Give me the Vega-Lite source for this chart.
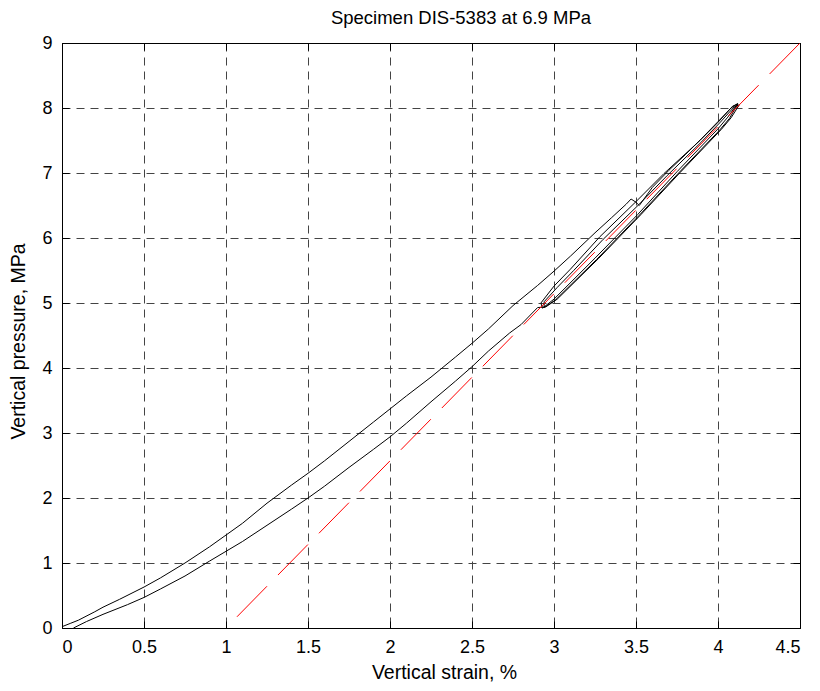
{
  "$schema": "https://vega.github.io/schema/vega-lite/v6.json",
  "autosize": "none",
  "width": 738,
  "height": 585,
  "padding": {"left": 62, "top": 43, "right": 20, "bottom": 63},
  "background": "white",
  "title": {"text": "Specimen DIS-5383 at 6.9 MPa", "fontSize": 18.5, "font": "Liberation Sans", "fontWeight": "normal", "color": "black", "offset": 7, "anchor": "middle", "dx": 30},
  "config": {
    "view": {"stroke": "black", "strokeWidth": 1},
    "axis": {
      "labelFont": "Liberation Sans", "labelFontSize": 18, "labelColor": "black",
      "titleFont": "Liberation Sans", "titleFontSize": 19.5, "titleFontWeight": "normal", "titleColor": "black",
      "domainColor": "black", "tickColor": "black", "tickSize": -7,
      "grid": true, "gridColor": "#444", "gridDash": [8, 6], "gridWidth": 1
    }
  },
  "datasets": {
    "curve": [
      {"i": 1, "strain": 0.0, "pressure": 0.02},
      {"i": 2, "strain": 0.05, "pressure": 0.07},
      {"i": 3, "strain": 0.1, "pressure": 0.12},
      {"i": 4, "strain": 0.2, "pressure": 0.25},
      {"i": 5, "strain": 0.25, "pressure": 0.32},
      {"i": 6, "strain": 0.35, "pressure": 0.44},
      {"i": 7, "strain": 0.5, "pressure": 0.63},
      {"i": 8, "strain": 0.6, "pressure": 0.77},
      {"i": 9, "strain": 0.75, "pressure": 1.0},
      {"i": 10, "strain": 0.9, "pressure": 1.25},
      {"i": 11, "strain": 1.0, "pressure": 1.43},
      {"i": 12, "strain": 1.1, "pressure": 1.61},
      {"i": 13, "strain": 1.25, "pressure": 1.92},
      {"i": 14, "strain": 1.4, "pressure": 2.2},
      {"i": 15, "strain": 1.5, "pressure": 2.38},
      {"i": 16, "strain": 1.6, "pressure": 2.57},
      {"i": 17, "strain": 1.75, "pressure": 2.87},
      {"i": 18, "strain": 1.9, "pressure": 3.17},
      {"i": 19, "strain": 2.0, "pressure": 3.37},
      {"i": 20, "strain": 2.1, "pressure": 3.57},
      {"i": 21, "strain": 2.25, "pressure": 3.86},
      {"i": 22, "strain": 2.4, "pressure": 4.17},
      {"i": 23, "strain": 2.5, "pressure": 4.38},
      {"i": 24, "strain": 2.6, "pressure": 4.6},
      {"i": 25, "strain": 2.75, "pressure": 4.96},
      {"i": 26, "strain": 2.9, "pressure": 5.27},
      {"i": 27, "strain": 3.0, "pressure": 5.49},
      {"i": 28, "strain": 3.1, "pressure": 5.72},
      {"i": 29, "strain": 3.25, "pressure": 6.08},
      {"i": 30, "strain": 3.35, "pressure": 6.31},
      {"i": 31, "strain": 3.44, "pressure": 6.52},
      {"i": 32, "strain": 3.47, "pressure": 6.6},
      {"i": 33, "strain": 3.5, "pressure": 6.55},
      {"i": 34, "strain": 3.52, "pressure": 6.5},
      {"i": 35, "strain": 3.6, "pressure": 6.78},
      {"i": 36, "strain": 3.7, "pressure": 7.04},
      {"i": 37, "strain": 3.8, "pressure": 7.28},
      {"i": 38, "strain": 3.9, "pressure": 7.53},
      {"i": 39, "strain": 4.0, "pressure": 7.79},
      {"i": 40, "strain": 4.08, "pressure": 8.0},
      {"i": 41, "strain": 4.12, "pressure": 8.07},
      {"i": 42, "strain": 4.06, "pressure": 7.86},
      {"i": 43, "strain": 4.0, "pressure": 7.68},
      {"i": 44, "strain": 3.75, "pressure": 7.02},
      {"i": 45, "strain": 3.51, "pressure": 6.36},
      {"i": 46, "strain": 3.25, "pressure": 5.69},
      {"i": 47, "strain": 3.0, "pressure": 5.06},
      {"i": 48, "strain": 2.93, "pressure": 4.92},
      {"i": 49, "strain": 2.92, "pressure": 5.0},
      {"i": 50, "strain": 3.0, "pressure": 5.26},
      {"i": 51, "strain": 3.1, "pressure": 5.52},
      {"i": 52, "strain": 3.28, "pressure": 6.02},
      {"i": 53, "strain": 3.5, "pressure": 6.56},
      {"i": 54, "strain": 3.67, "pressure": 6.99},
      {"i": 55, "strain": 3.89, "pressure": 7.5},
      {"i": 56, "strain": 4.0, "pressure": 7.78},
      {"i": 57, "strain": 4.09, "pressure": 8.03},
      {"i": 58, "strain": 4.12, "pressure": 8.06},
      {"i": 59, "strain": 4.07, "pressure": 7.84},
      {"i": 60, "strain": 4.01, "pressure": 7.66},
      {"i": 61, "strain": 3.76, "pressure": 7.0},
      {"i": 62, "strain": 3.52, "pressure": 6.35},
      {"i": 63, "strain": 3.26, "pressure": 5.67},
      {"i": 64, "strain": 3.01, "pressure": 5.05},
      {"i": 65, "strain": 2.94, "pressure": 4.93},
      {"i": 66, "strain": 2.94, "pressure": 5.02},
      {"i": 67, "strain": 3.02, "pressure": 5.24},
      {"i": 68, "strain": 3.12, "pressure": 5.5},
      {"i": 69, "strain": 3.3, "pressure": 5.98},
      {"i": 70, "strain": 3.52, "pressure": 6.52},
      {"i": 71, "strain": 3.69, "pressure": 6.96},
      {"i": 72, "strain": 3.9, "pressure": 7.48},
      {"i": 73, "strain": 4.01, "pressure": 7.77},
      {"i": 74, "strain": 4.1, "pressure": 8.02},
      {"i": 75, "strain": 4.13, "pressure": 8.05},
      {"i": 76, "strain": 4.08, "pressure": 7.85},
      {"i": 77, "strain": 4.02, "pressure": 7.67},
      {"i": 78, "strain": 3.77, "pressure": 7.01},
      {"i": 79, "strain": 3.53, "pressure": 6.36},
      {"i": 80, "strain": 3.27, "pressure": 5.68},
      {"i": 81, "strain": 3.02, "pressure": 5.06},
      {"i": 82, "strain": 2.95, "pressure": 4.94},
      {"i": 83, "strain": 2.9, "pressure": 4.93},
      {"i": 84, "strain": 2.8, "pressure": 4.67},
      {"i": 85, "strain": 2.73, "pressure": 4.54},
      {"i": 86, "strain": 2.6, "pressure": 4.26},
      {"i": 87, "strain": 2.5, "pressure": 4.02},
      {"i": 88, "strain": 2.4, "pressure": 3.8},
      {"i": 89, "strain": 2.25, "pressure": 3.48},
      {"i": 90, "strain": 2.1, "pressure": 3.15},
      {"i": 91, "strain": 2.0, "pressure": 2.94},
      {"i": 92, "strain": 1.9, "pressure": 2.75},
      {"i": 93, "strain": 1.75, "pressure": 2.47},
      {"i": 94, "strain": 1.6, "pressure": 2.18},
      {"i": 95, "strain": 1.5, "pressure": 2.0},
      {"i": 96, "strain": 1.4, "pressure": 1.83},
      {"i": 97, "strain": 1.25, "pressure": 1.58},
      {"i": 98, "strain": 1.1, "pressure": 1.33},
      {"i": 99, "strain": 1.0, "pressure": 1.18},
      {"i": 100, "strain": 0.9, "pressure": 1.03},
      {"i": 101, "strain": 0.75, "pressure": 0.8},
      {"i": 102, "strain": 0.6, "pressure": 0.6},
      {"i": 103, "strain": 0.5, "pressure": 0.47},
      {"i": 104, "strain": 0.4, "pressure": 0.36},
      {"i": 105, "strain": 0.25, "pressure": 0.21},
      {"i": 106, "strain": 0.15, "pressure": 0.1},
      {"i": 107, "strain": 0.07, "pressure": 0.0}
    ],
    "fit": [
      {"strain": 1.0, "pressure": 0.0},
      {"strain": 4.5, "pressure": 9.0}
    ]
  },
  "layer": [
    {
      "data": {"name": "curve"},
      "mark": {"type": "line", "color": "black", "strokeWidth": 1, "clip": true},
      "encoding": {
        "x": {"field": "strain", "type": "quantitative", "scale": {"domain": [0, 4.5], "nice": false}, "axis": {"values": [0, 0.5, 1, 1.5, 2, 2.5, 3, 3.5, 4, 4.5], "title": "Vertical strain, %", "labelPadding": 17, "titlePadding": 7, "titleX": 382, "format": "~g"}},
        "y": {"field": "pressure", "type": "quantitative", "scale": {"domain": [0, 9], "nice": false}, "axis": {"values": [0, 1, 2, 3, 4, 5, 6, 7, 8, 9], "title": "Vertical pressure, MPa", "labelPadding": 17, "titlePadding": 13, "titleY": 298}},
        "order": {"field": "i", "type": "quantitative"}
      }
    },
    {
      "data": {"name": "fit"},
      "mark": {"type": "line", "color": "red", "strokeWidth": 1, "strokeDash": [42.8, 15.7], "strokeDashOffset": 42.8, "clip": true},
      "encoding": {
        "x": {"field": "strain", "type": "quantitative", "axis": {"orient": "top", "values": [0, 0.5, 1, 1.5, 2, 2.5, 3, 3.5, 4, 4.5], "labels": false, "title": null, "grid": false}},
        "y": {"field": "pressure", "type": "quantitative", "axis": {"orient": "right", "values": [0, 1, 2, 3, 4, 5, 6, 7, 8, 9], "labels": false, "title": null, "grid": false}}
      }
    }
  ],
  "resolve": {"axis": {"x": "independent", "y": "independent"}}
}
